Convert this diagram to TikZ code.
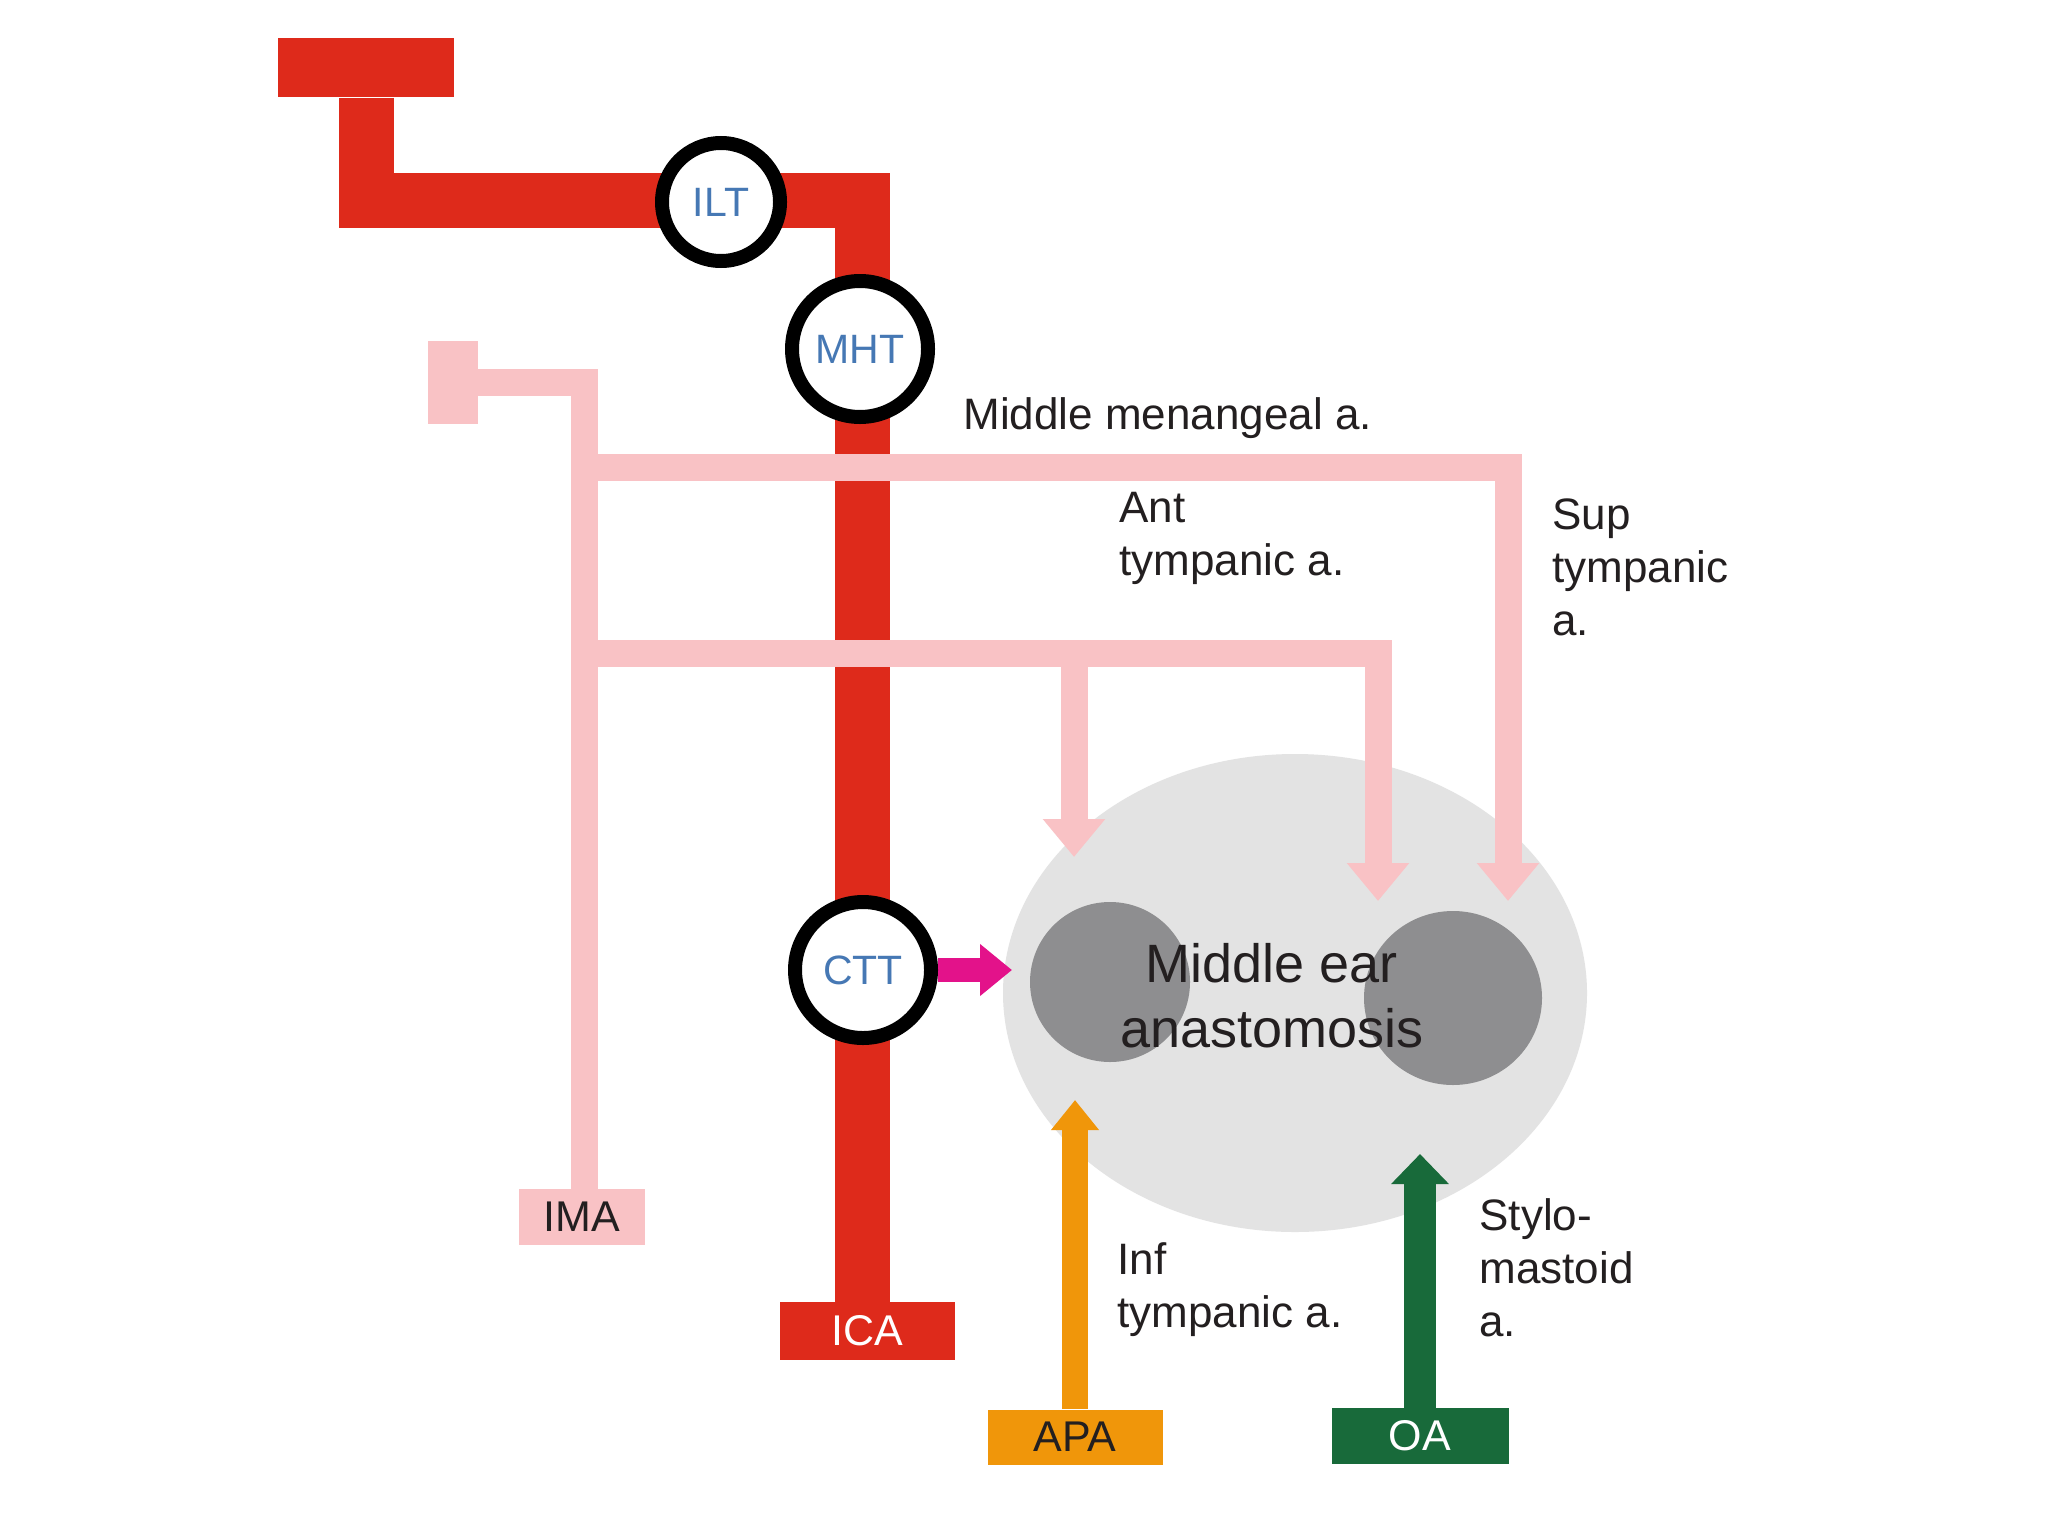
\documentclass[tikz,border=0pt]{standalone}
\usepackage{fontspec}
\setmainfont{Liberation Sans}
\usetikzlibrary{arrows.meta,shapes.geometric}
\definecolor{redc}{RGB}{222,42,27}
\definecolor{pinkc}{RGB}{249,194,197}
\definecolor{lgrey}{RGB}{227,227,227}
\definecolor{dgrey}{RGB}{142,142,144}
\definecolor{magc}{RGB}{227,18,138}
\definecolor{orc}{RGB}{240,150,10}
\definecolor{grc}{RGB}{24,106,58}
\definecolor{bluec}{RGB}{70,120,180}
\definecolor{txtc}{RGB}{35,31,32}
\pgfdeclarelayer{back}
\pgfdeclarelayer{mid}
\pgfsetlayers{back,mid,main}
\begin{document}
\begin{tikzpicture}[x=0.5pt,y=-0.5pt,
  lbl/.style={font=\fontsize{22pt}{26.5pt}\selectfont, text=txtc, inner sep=0pt, align=left, anchor=north west},
  ring/.style={circle, draw=black, line width=7pt, fill=white, text=bluec, font=\fontsize{20.5pt}{24pt}\selectfont, inner sep=0pt},
  vbox/.style={inner sep=0pt, font=\fontsize{21.5pt}{24pt}\selectfont},
  redline/.style={draw=redc, line width=27.5pt, line join=miter},
  pinkline/.style={draw=pinkc, line width=13.5pt, line join=miter},
  pinkarrow/.style={pinkline, -{Triangle[width=30pt,length=19pt]}},
]
\useasboundingbox (0,0) rectangle (2048,1536);

% middle ear region
\begin{pgfonlayer}{back}
\fill[white] (0,0) rectangle (2048,1536);
\node[ellipse, fill=lgrey, minimum width=292pt, minimum height=239pt, inner sep=0pt] (mea) at (1295,993) {};
\node[ellipse, fill=dgrey, minimum width=80pt, minimum height=80pt, inner sep=0pt] (dl) at (1110,982) {};
\node[ellipse, fill=dgrey, minimum width=89pt, minimum height=87pt, inner sep=0pt] (dr) at (1453,998) {};
\node[inner sep=0pt, align=center, anchor=north, text=txtc, font=\fontsize{27pt}{32.5pt}\selectfont] (metext) at (1272,943) {Middle ear\\anastomosis};
\end{pgfonlayer}

% boxes
\node[vbox, fill=redc, minimum width=88pt, minimum height=29.5pt] (tbar) at (366,68) {};
\node[vbox, fill=redc, text=white, minimum width=87.5pt, minimum height=29pt] (ICA) at (867,1331) {ICA};
\node[vbox, fill=pinkc, minimum width=25pt, minimum height=41.5pt] (stub) at (453,382) {};
\node[vbox, fill=pinkc, text=txtc, minimum width=63pt, minimum height=28pt] (IMA) at (582,1217) {IMA};
\node[vbox, fill=orc, text=txtc, minimum width=87.5pt, minimum height=27.5pt] (APA) at (1075,1437) {APA};
\node[vbox, fill=grc, text=white, minimum width=88.5pt, minimum height=28pt] (OA) at (1420,1436) {OA};

% circles
\node[ring, minimum size=59pt] (ILT) at (721,202) {ILT};
\node[ring, minimum size=68pt] (MHT) at (860,349) {MHT};
\node[ring, minimum size=68pt] (CTT) at (863,970) {CTT};

% coordinates
\coordinate (rc) at (862,200);
\coordinate (pk) at (584,382);
\coordinate (mm1) at (584,467);
\coordinate (mm2) at (1508,467);
\coordinate (suptip) at (1508,901);
\coordinate (at1) at (584,653);
\coordinate (at2) at (1378,653);
\coordinate (at3) at (1074,653);
\coordinate (midtip) at (1378,901);
\coordinate (anttip) at (1074,857);
\coordinate (ctttip) at (1012,970);
\coordinate (apatip) at (1075,1100);
\coordinate (oatip) at (1420,1154);

\begin{pgfonlayer}{mid}
\draw[redline] (tbar.south) |- (rc) -- (rc |- ICA.north);
\draw[pinkline] (stub.east) -- (pk) -- (pk |- IMA.north);
\draw[pinkarrow] (mm1) -- (mm2) -- (suptip);
\draw[pinkarrow] (at1) -- (at2) -- (midtip);
\draw[pinkarrow] (at3) -- (anttip);
\draw[draw=magc, line width=12pt, -{Triangle[width=25pt,length=16pt]}] (CTT.east) -- (ctttip);
\draw[draw=orc, line width=13pt, -{Triangle[width=23pt,length=15pt]}] (APA.north) -- (apatip);
\draw[draw=grc, line width=16pt, -{Triangle[width=28pt,length=15pt]}] (OA.north) -- (oatip);
\end{pgfonlayer}

% labels
\node[lbl, anchor=base west] (mml) at (963,429) {Middle menangeal a.};
\node[lbl] (antl) at (1119,492) {Ant\\tympanic a.};
\node[lbl] (supl) at (1552,498) {Sup\\tympanic\\a.};
\node[lbl] (infl) at (1117,1242) {Inf\\tympanic a.};
\node[lbl] (styl) at (1479,1198) {Stylo-\\mastoid\\a.};
\end{tikzpicture}
\end{document}
